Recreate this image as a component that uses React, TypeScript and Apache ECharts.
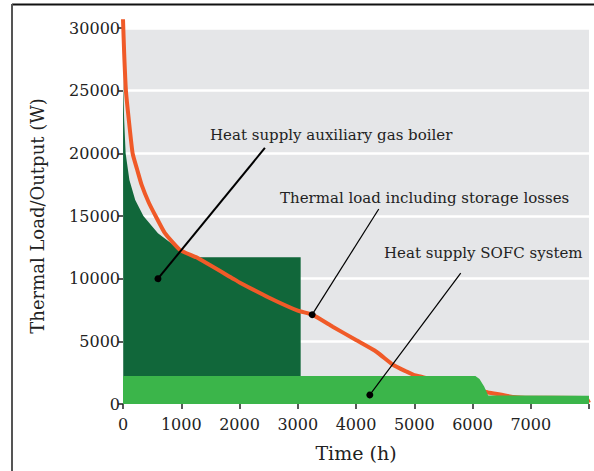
import React, { useEffect, useRef } from 'react';
import * as echarts from 'echarts';

// Thermal load including storage losses [h, W]
const thermalLoad: number[][] = [
  [0, 30700], [20, 28000], [50, 25000], [100, 22660], [165, 20000], [245, 18670],
  [320, 17480], [440, 16100], [560, 15000], [720, 13630], [980, 12290], [1260, 11700],
  [1890, 10000], [2000, 9700], [2500, 8500], [3000, 7450], [3250, 7130], [3600, 6170],
  [4000, 5100], [4350, 4170], [4640, 3110], [4870, 2580], [5000, 2310], [5120, 2180],
  [5500, 1700], [6000, 1250], [6270, 920], [6500, 740], [6700, 560], [7000, 500],
  [7950, 480], [8000, 100],
];

// Heat supply auxiliary gas boiler (top edge) [h, W]
const boilerSupply: number[][] = [
  [0, 25800], [5, 25000], [20, 22660], [45, 20000], [110, 17880], [210, 16280],
  [350, 15000], [600, 13630], [980, 12290], [1260, 11700], [3050, 11700], [3050, 0],
];

// Heat supply SOFC system [h, W]
const sofcSupply: number[][] = [
  [0, 2230], [6050, 2230], [6120, 2000], [6200, 1400], [6270, 680], [8000, 660],
];

// leader lines: [dot, end of line] in data units
const leaders: number[][][] = [
  [[600, 10000], [2436, 20430]],
  [[3247, 7130], [4391, 15560]],
  [[4237, 720], [5798, 10450]],
];

const labels: string[] = [
  'Heat supply auxiliary gas boiler',
  'Thermal load including storage losses',
  'Heat supply SOFC system',
];

const FONT = '"DejaVu Serif", serif';

const App: React.FC = () => {
  const chartRef = useRef<HTMLDivElement>(null);

  useEffect(() => {
    if (!chartRef.current) return;
    const chart = echarts.init(chartRef.current, undefined, { renderer: 'svg' });

    chart.setOption({
      animation: false,
      backgroundColor: '#fff',
      textStyle: { fontFamily: FONT },
      grid: {
        left: 123, right: 5, top: 28, bottom: 67,
        show: true, backgroundColor: '#e5e6e8', borderWidth: 0,
      },
      xAxis: {
        type: 'value', min: 0, max: 8000, interval: 1000,
        name: 'Time (h)', nameLocation: 'middle', nameGap: 39,
        nameTextStyle: { fontFamily: FONT, fontSize: 19, color: '#222' },
        axisLine: { show: false },
        axisTick: { show: true, length: 5, lineStyle: { color: '#222', width: 1.5 } },
        axisLabel: {
          fontFamily: FONT, fontSize: 16, color: '#222', margin: 12,
          formatter: (v: number) => (v === 8000 ? '' : String(v)),
        },
        splitLine: { show: false },
      },
      yAxis: {
        type: 'value', min: 0, max: 30000, interval: 5000,
        name: 'Thermal Load/Output (W)', nameLocation: 'middle', nameGap: 77,
        nameTextStyle: { fontFamily: FONT, fontSize: 18, color: '#222' },
        axisLine: { show: false },
        axisTick: { show: true, length: 5, lineStyle: { color: '#222', width: 1.5 } },
        axisLabel: {
          fontFamily: FONT, fontSize: 16, color: '#222', margin: 3,
          formatter: (v: number) => String(v),
        },
        splitLine: { show: true, lineStyle: { color: '#fff', width: 2.5 } },
      },
      series: [
        {
          type: 'line', name: 'boiler', data: boilerSupply, z: 1,
          showSymbol: false, lineStyle: { width: 0 },
          areaStyle: { color: '#11673a', opacity: 1 },
        },
        {
          type: 'line', name: 'load', data: thermalLoad, z: 2, clip: false,
          showSymbol: false, smooth: 0.15,
          lineStyle: { color: '#f05a28', width: 4 },
        },
        {
          type: 'line', name: 'sofc', data: sofcSupply, z: 3,
          showSymbol: false, lineStyle: { width: 0 },
          areaStyle: { color: '#3bb54a', opacity: 1 },
        },
        {
          type: 'line', name: 'leaders', data: [], z: 4,
          markLine: {
            silent: true, animation: false,
            label: { show: false },
            data: leaders.map((l, i) => [
              { coord: l[0], symbol: 'circle', symbolSize: 7 },
              { coord: l[1], symbol: 'none' },
            ].map((p) => ({
              ...p,
              lineStyle: { color: '#000', type: 'solid', width: i === 0 ? 2 : 1.2 },
              itemStyle: { color: '#000' },
            }))),
          },
        },
      ],
      graphic: [
        {
          type: 'line', silent: true,
          shape: { x1: 12, y1: 4.5, x2: 594, y2: 4.5 },
          style: { stroke: '#111', lineWidth: 2 },
        },
        {
          type: 'line', silent: true,
          shape: { x1: 12, y1: 4, x2: 12, y2: 471 },
          style: { stroke: '#555', lineWidth: 2 },
        },
        {
          type: 'text', x: 210, y: 135, silent: true,
          style: { text: labels[0], font: `15px ${FONT}`, fill: '#222', textVerticalAlign: 'middle' },
        },
        {
          type: 'text', x: 280, y: 198, silent: true,
          style: { text: labels[1], font: `15px ${FONT}`, fill: '#222', textVerticalAlign: 'middle' },
        },
        {
          type: 'text', x: 384, y: 253, silent: true,
          style: { text: labels[2], font: `15px ${FONT}`, fill: '#222', textVerticalAlign: 'middle' },
        },
      ],
    });

    return () => chart.dispose();
  }, []);

  return (
    <div
      ref={chartRef}
      style={{ position: 'fixed', left: 0, top: 0, width: 594, height: 471 }}
    />
  );
};

export default App;
